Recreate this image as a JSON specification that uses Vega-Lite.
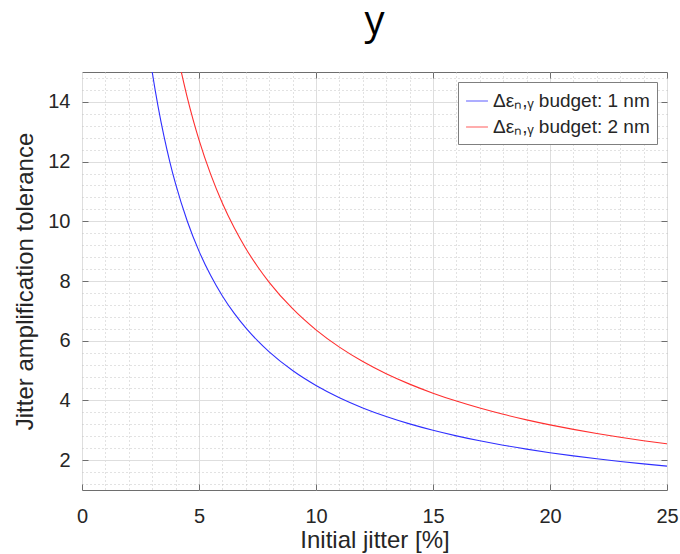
{
  "$schema": "https://vega.github.io/schema/vega-lite/v6.json",
  "width": 585,
  "height": 418,
  "autosize": {"type": "none"},
  "padding": {"left": 82, "top": 72, "right": 13, "bottom": 64},
  "title": {
    "text": "y",
    "font": "Open Sans",
    "fontSize": 40,
    "fontWeight": "normal",
    "color": "#000000",
    "anchor": "middle",
    "baseline": "alphabetic",
    "offset": -6
  },
  "config": {
    "view": {"stroke": "#6e6e6e", "strokeWidth": 1},
    "axis": {
      "labelFont": "Liberation Sans",
      "titleFont": "Liberation Sans",
      "labelColor": "#262626",
      "titleColor": "#262626",
      "titleFontWeight": "normal",
      "labelFontSize": 20,
      "titleFontSize": 24
    }
  },
  "datasets": {
    "curves": [
      {"series": "Δεₙ,ᵧ budget: 1 nm", "jitter": 2.95, "tolerance": 15.254},
      {"series": "Δεₙ,ᵧ budget: 1 nm", "jitter": 3.0, "tolerance": 15.0},
      {"series": "Δεₙ,ᵧ budget: 1 nm", "jitter": 3.25, "tolerance": 13.846},
      {"series": "Δεₙ,ᵧ budget: 1 nm", "jitter": 3.5, "tolerance": 12.857},
      {"series": "Δεₙ,ᵧ budget: 1 nm", "jitter": 3.75, "tolerance": 12.0},
      {"series": "Δεₙ,ᵧ budget: 1 nm", "jitter": 4.0, "tolerance": 11.25},
      {"series": "Δεₙ,ᵧ budget: 1 nm", "jitter": 4.5, "tolerance": 10.0},
      {"series": "Δεₙ,ᵧ budget: 1 nm", "jitter": 5.0, "tolerance": 9.0},
      {"series": "Δεₙ,ᵧ budget: 1 nm", "jitter": 5.5, "tolerance": 8.182},
      {"series": "Δεₙ,ᵧ budget: 1 nm", "jitter": 6.0, "tolerance": 7.5},
      {"series": "Δεₙ,ᵧ budget: 1 nm", "jitter": 6.5, "tolerance": 6.923},
      {"series": "Δεₙ,ᵧ budget: 1 nm", "jitter": 7.0, "tolerance": 6.429},
      {"series": "Δεₙ,ᵧ budget: 1 nm", "jitter": 7.5, "tolerance": 6.0},
      {"series": "Δεₙ,ᵧ budget: 1 nm", "jitter": 8.0, "tolerance": 5.625},
      {"series": "Δεₙ,ᵧ budget: 1 nm", "jitter": 9.0, "tolerance": 5.0},
      {"series": "Δεₙ,ᵧ budget: 1 nm", "jitter": 10.0, "tolerance": 4.5},
      {"series": "Δεₙ,ᵧ budget: 1 nm", "jitter": 11.0, "tolerance": 4.091},
      {"series": "Δεₙ,ᵧ budget: 1 nm", "jitter": 12.0, "tolerance": 3.75},
      {"series": "Δεₙ,ᵧ budget: 1 nm", "jitter": 13.0, "tolerance": 3.462},
      {"series": "Δεₙ,ᵧ budget: 1 nm", "jitter": 14.0, "tolerance": 3.214},
      {"series": "Δεₙ,ᵧ budget: 1 nm", "jitter": 15.0, "tolerance": 3.0},
      {"series": "Δεₙ,ᵧ budget: 1 nm", "jitter": 16.0, "tolerance": 2.813},
      {"series": "Δεₙ,ᵧ budget: 1 nm", "jitter": 17.0, "tolerance": 2.647},
      {"series": "Δεₙ,ᵧ budget: 1 nm", "jitter": 18.0, "tolerance": 2.5},
      {"series": "Δεₙ,ᵧ budget: 1 nm", "jitter": 19.0, "tolerance": 2.368},
      {"series": "Δεₙ,ᵧ budget: 1 nm", "jitter": 20.0, "tolerance": 2.25},
      {"series": "Δεₙ,ᵧ budget: 1 nm", "jitter": 21.0, "tolerance": 2.143},
      {"series": "Δεₙ,ᵧ budget: 1 nm", "jitter": 22.0, "tolerance": 2.045},
      {"series": "Δεₙ,ᵧ budget: 1 nm", "jitter": 23.0, "tolerance": 1.957},
      {"series": "Δεₙ,ᵧ budget: 1 nm", "jitter": 24.0, "tolerance": 1.875},
      {"series": "Δεₙ,ᵧ budget: 1 nm", "jitter": 25.0, "tolerance": 1.8},
      {"series": "Δεₙ,ᵧ budget: 2 nm", "jitter": 4.2, "tolerance": 15.152},
      {"series": "Δεₙ,ᵧ budget: 2 nm", "jitter": 4.5, "tolerance": 14.142},
      {"series": "Δεₙ,ᵧ budget: 2 nm", "jitter": 4.75, "tolerance": 13.398},
      {"series": "Δεₙ,ᵧ budget: 2 nm", "jitter": 5.0, "tolerance": 12.728},
      {"series": "Δεₙ,ᵧ budget: 2 nm", "jitter": 5.5, "tolerance": 11.571},
      {"series": "Δεₙ,ᵧ budget: 2 nm", "jitter": 6.0, "tolerance": 10.607},
      {"series": "Δεₙ,ᵧ budget: 2 nm", "jitter": 6.5, "tolerance": 9.791},
      {"series": "Δεₙ,ᵧ budget: 2 nm", "jitter": 7.0, "tolerance": 9.091},
      {"series": "Δεₙ,ᵧ budget: 2 nm", "jitter": 7.5, "tolerance": 8.485},
      {"series": "Δεₙ,ᵧ budget: 2 nm", "jitter": 8.0, "tolerance": 7.955},
      {"series": "Δεₙ,ᵧ budget: 2 nm", "jitter": 9.0, "tolerance": 7.071},
      {"series": "Δεₙ,ᵧ budget: 2 nm", "jitter": 10.0, "tolerance": 6.364},
      {"series": "Δεₙ,ᵧ budget: 2 nm", "jitter": 11.0, "tolerance": 5.785},
      {"series": "Δεₙ,ᵧ budget: 2 nm", "jitter": 12.0, "tolerance": 5.303},
      {"series": "Δεₙ,ᵧ budget: 2 nm", "jitter": 13.0, "tolerance": 4.895},
      {"series": "Δεₙ,ᵧ budget: 2 nm", "jitter": 14.0, "tolerance": 4.546},
      {"series": "Δεₙ,ᵧ budget: 2 nm", "jitter": 15.0, "tolerance": 4.243},
      {"series": "Δεₙ,ᵧ budget: 2 nm", "jitter": 16.0, "tolerance": 3.978},
      {"series": "Δεₙ,ᵧ budget: 2 nm", "jitter": 17.0, "tolerance": 3.744},
      {"series": "Δεₙ,ᵧ budget: 2 nm", "jitter": 18.0, "tolerance": 3.536},
      {"series": "Δεₙ,ᵧ budget: 2 nm", "jitter": 19.0, "tolerance": 3.349},
      {"series": "Δεₙ,ᵧ budget: 2 nm", "jitter": 20.0, "tolerance": 3.182},
      {"series": "Δεₙ,ᵧ budget: 2 nm", "jitter": 21.0, "tolerance": 3.03},
      {"series": "Δεₙ,ᵧ budget: 2 nm", "jitter": 22.0, "tolerance": 2.893},
      {"series": "Δεₙ,ᵧ budget: 2 nm", "jitter": 23.0, "tolerance": 2.767},
      {"series": "Δεₙ,ᵧ budget: 2 nm", "jitter": 24.0, "tolerance": 2.652},
      {"series": "Δεₙ,ᵧ budget: 2 nm", "jitter": 25.0, "tolerance": 2.546}
    ]
  },
  "data": {"name": "curves"},
  "layer": [
    {
      "mark": {"type": "line", "strokeWidth": 1.1, "clip": true, "interpolate": "monotone"},
      "encoding": {
        "x": {
          "field": "jitter",
          "type": "quantitative",
          "scale": {"domain": [0, 25], "nice": false, "zero": false},
          "axis": {
            "orient": "bottom",
            "title": "Initial jitter [%]",
            "values": [0, 1, 2, 3, 4, 5, 6, 7, 8, 9, 10, 11, 12, 13, 14, 15, 16, 17, 18, 19, 20, 21, 22, 23, 24, 25],
            "labelExpr": "datum.value % 5 === 0 ? datum.label : ''",
            "labelFlush": false,
            "labelOverlap": false,
            "labelPadding": 22,
            "titlePadding": 2,
            "domain": false,
            "tickSize": -6,
            "tickColor": "#6e6e6e",
            "tickOpacity": {"condition": {"test": "datum.value % 5 === 0", "value": 1}, "value": 0},
            "grid": true,
            "gridWidth": 1,
            "gridColor": {"condition": {"test": "datum.value % 5 === 0", "value": "#dedede"}, "value": "#c4c4c4"},
            "gridDash": {"condition": {"test": "datum.value % 5 === 0", "value": []}, "value": [1, 3]}
          }
        },
        "y": {
          "field": "tolerance",
          "type": "quantitative",
          "scale": {"domain": [1, 15], "nice": false, "zero": false},
          "axis": {
            "orient": "left",
            "title": "Jitter amplification tolerance",
            "values": [1.2, 1.6, 2, 2.4, 2.8, 3.2, 3.6, 4, 4.4, 4.8, 5.2, 5.6, 6, 6.4, 6.8, 7.2, 7.6, 8, 8.4, 8.8, 9.2, 9.6, 10, 10.4, 10.8, 11.2, 11.6, 12, 12.4, 12.8, 13.2, 13.6, 14, 14.4, 14.8],
            "labelExpr": "abs(datum.value / 2 - round(datum.value / 2)) < 0.001 ? format(datum.value, 'd') : ''",
            "labelOverlap": false,
            "labelFlush": false,
            "labelPadding": 18,
            "titlePadding": 10,
            "domain": false,
            "tickSize": -6,
            "tickColor": "#6e6e6e",
            "tickOpacity": {"condition": {"test": "abs(datum.value / 2 - round(datum.value / 2)) < 0.001", "value": 1}, "value": 0},
            "grid": true,
            "gridWidth": 1,
            "gridColor": {"condition": {"test": "abs(datum.value / 2 - round(datum.value / 2)) < 0.001", "value": "#dedede"}, "value": "#c4c4c4"},
            "gridDash": {"condition": {"test": "abs(datum.value / 2 - round(datum.value / 2)) < 0.001", "value": []}, "value": [1, 3]}
          }
        },
        "color": {
          "field": "series",
          "type": "nominal",
          "scale": {"domain": ["Δεₙ,ᵧ budget: 1 nm", "Δεₙ,ᵧ budget: 2 nm"], "range": ["#2f2fff", "#ff2f2f"]},
          "legend": {
            "orient": "top-right",
            "offset": 10,
            "title": null,
            "fillColor": "#ffffff",
            "strokeColor": "#7f7f7f",
            "padding": 7,
            "symbolType": "stroke",
            "symbolSize": 480,
            "symbolStrokeWidth": 1.3,
            "symbolOpacity": 0.6,
            "labelFont": "Liberation Sans",
            "labelFontSize": 19,
            "labelColor": "#262626",
            "labelLimit": 300,
            "rowPadding": 4
          }
        }
      }
    },
    {
      "mark": {"type": "line", "opacity": 0, "clip": true},
      "encoding": {
        "x": {
          "field": "jitter",
          "type": "quantitative",
          "axis": {"orient": "top", "title": null, "values": [5, 10, 15, 20, 25], "labels": false, "domain": false, "grid": false, "tickSize": -6, "tickColor": "#6e6e6e"}
        },
        "y": {
          "field": "tolerance",
          "type": "quantitative",
          "axis": {"orient": "right", "title": null, "values": [2, 4, 6, 8, 10, 12, 14], "labels": false, "domain": false, "grid": false, "tickSize": -6, "tickColor": "#6e6e6e"}
        },
        "detail": {"field": "series", "type": "nominal"}
      }
    }
  ],
  "resolve": {"axis": {"x": "independent", "y": "independent"}}
}
